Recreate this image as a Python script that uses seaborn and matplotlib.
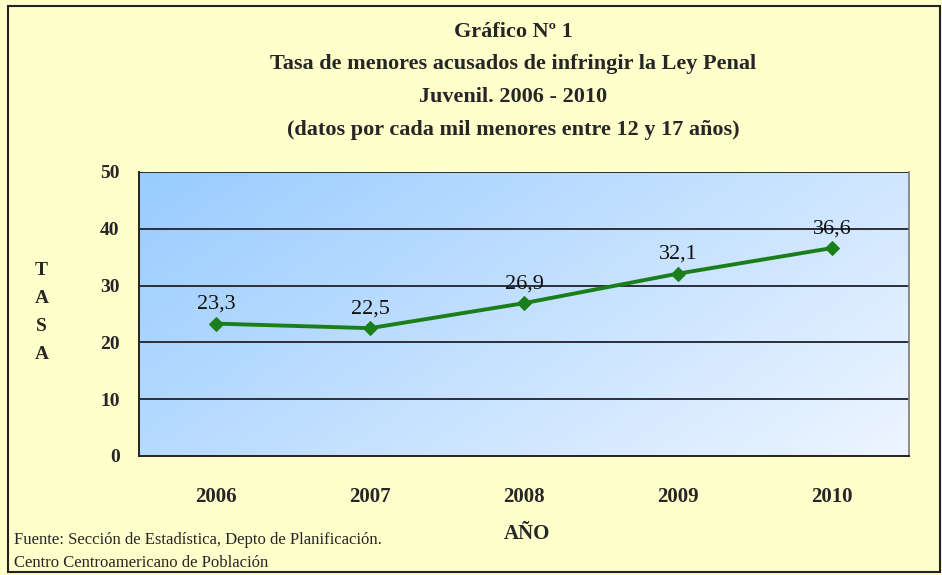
import numpy as np
import pandas as pd
import seaborn as sns
import matplotlib.pyplot as plt
from matplotlib.colors import LinearSegmentedColormap
from matplotlib.patches import Rectangle

years = [2006, 2007, 2008, 2009, 2010]
tasa = [23.3, 22.5, 26.9, 32.1, 36.6]
labels = ["23,3", "22,5", "26,9", "32,1", "36,6"]

df = pd.DataFrame({"Año": years, "Tasa": tasa})

sns.set_style("white")
plt.rcParams["font.family"] = ["Liberation Serif", "DejaVu Serif"]

fig = plt.figure(figsize=(9.42, 5.75), dpi=100)
fig.patch.set_facecolor("#FFFFCC")
fig.patches.append(Rectangle((0.008, 0.005), 0.990, 0.985, transform=fig.transFigure,
                             fill=False, edgecolor="#222222", linewidth=1.5))

ax = fig.add_axes([0.1476, 0.207, 0.8174, 0.494])

# fondo degradado del area de trazado
cmap = LinearSegmentedColormap.from_list("fondo", ["#99CCFF", "#EEF5FF"])
gx, gy = np.meshgrid(np.linspace(0, 1, 200), np.linspace(0, 1, 200))
ax.imshow(gx * 0.65 + gy * 0.35, cmap=cmap, extent=(2005.5, 2010.5, 0, 50),
          aspect="auto", zorder=0, origin="upper")

for v in [10, 20, 30, 40, 50]:
    ax.axhline(v, color="#2B2F3A", linewidth=1.4, zorder=1)

sns.lineplot(data=df, x="Año", y="Tasa", ax=ax, color="#1A7F1A", linewidth=2.8,
             marker="D", markersize=7.5, markeredgecolor="#1A7F1A", zorder=3)

for x, y, t in zip(years, tasa, labels):
    ax.annotate(t, (x, y), xytext=(0, 7), textcoords="offset points",
                ha="center", va="bottom", fontsize=16, color="#111111", zorder=4)

ax.set_xlim(2005.5, 2010.5)
ax.set_ylim(0, 50)
ax.set_yticks([0, 10, 20, 30, 40, 50])
ax.set_yticklabels(["0", "10", "20", "30", "40", "50"], fontsize=14, fontweight="bold")
ax.set_xticks([2005.5, 2006.5, 2007.5, 2008.5, 2009.5, 2010.5])
ax.set_xticklabels([])
ax.set_xticks(years, minor=True)
ax.set_xticklabels([str(y) for y in years], minor=True, fontsize=15, fontweight="bold")
ax.tick_params(axis="x", which="major", length=8, width=1.2, color="#222222", direction="out")
ax.tick_params(axis="x", which="minor", length=0, pad=22)
ax.tick_params(axis="y", length=8, width=1.2, color="#222222", direction="out", pad=6)
ax.set_xlabel("")
ax.set_ylabel("")

for s in ["left", "bottom"]:
    ax.spines[s].set_color("#222222")
    ax.spines[s].set_linewidth(1.4)
ax.spines["top"].set_visible(False)
ax.spines["right"].set_color("#7A7A7A")
ax.spines["right"].set_linewidth(1.2)

fig.text(0.545, 0.945, "Gráfico Nº 1", ha="center", va="center", fontsize=16, fontweight="bold")
fig.text(0.545, 0.888, "Tasa de menores acusados de infringir la Ley Penal", ha="center",
         va="center", fontsize=16, fontweight="bold")
fig.text(0.545, 0.831, "Juvenil. 2006 - 2010", ha="center", va="center", fontsize=16, fontweight="bold")
fig.text(0.545, 0.774, "(datos por cada mil menores entre 12 y 17 años)", ha="center",
         va="center", fontsize=16, fontweight="bold")

for i, ch in enumerate("TASA"):
    fig.text(0.044, 0.530 - i * 0.049, ch, ha="center", va="center", fontsize=14, fontweight="bold")

fig.text(0.559, 0.071, "AÑO", ha="center", va="center", fontsize=15, fontweight="bold")
fig.text(0.015, 0.060, "Fuente: Sección de Estadística, Depto de Planificación.",
         ha="left", va="center", fontsize=12)
fig.text(0.015, 0.021, "Centro Centroamericano de Población", ha="left", va="center", fontsize=12)

fig.savefig("out.png", dpi=100, facecolor=fig.get_facecolor())
